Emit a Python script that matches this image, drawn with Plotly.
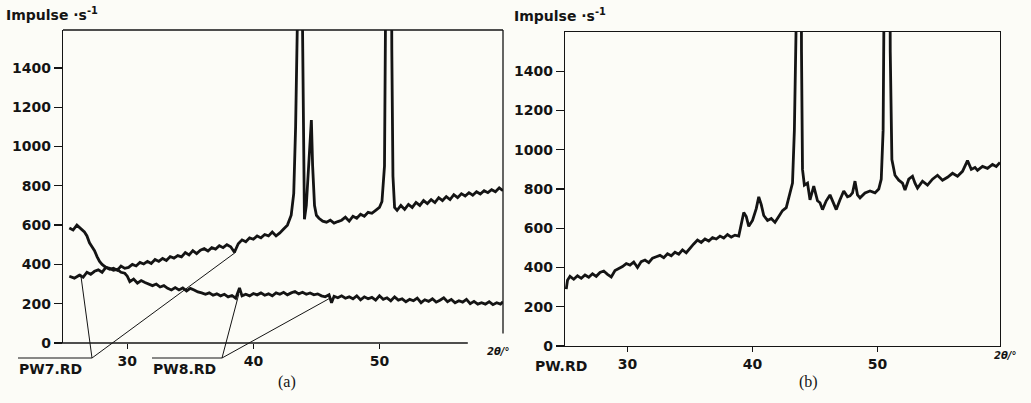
import plotly.graph_objects as go

W, H = 1031, 403

# ---------------- data ----------------
# (a) PW7.RD : 2theta [deg] / counts per second
pw7_2theta = [25.4, 25.8, 26.2, 26.5, 26.8, 27.1, 27.4, 27.7, 28.0, 28.3, 28.6, 28.9, 29.2, 29.5, 29.8,
              30.1, 30.4, 30.7, 31.0, 31.3, 31.6, 31.9, 32.2, 32.5, 32.8, 33.1, 33.4, 33.7, 34.0, 34.3,
              34.6, 34.9, 35.2, 35.5, 35.8, 36.1, 36.4, 36.7, 37.0, 37.3, 37.6, 37.9, 38.2, 38.5, 38.8,
              39.1, 39.4, 39.7, 40.0, 40.3, 40.6, 40.9, 41.2, 41.5, 41.8, 42.1, 42.4, 42.7, 43.0, 43.2,
              43.35, 43.45, 43.5, 43.85, 43.9, 43.98, 44.05, 44.2, 44.35, 44.5, 44.6, 44.7, 44.85, 45.0,
              45.2, 45.5, 45.8, 46.1, 46.4, 46.7, 47.0, 47.3, 47.6, 47.9, 48.2, 48.5, 48.8, 49.1, 49.4,
              49.7, 50.0, 50.2, 50.4, 50.52, 50.6, 50.9, 50.98, 51.07, 51.2, 51.4, 51.7, 52.0, 52.3,
              52.6, 52.9, 53.2, 53.5, 53.8, 54.1, 54.4, 54.7, 55.0, 55.3, 55.6, 55.9, 56.2, 56.5, 56.8,
              57.1, 57.4, 57.7, 58.0, 58.3, 58.6, 58.9, 59.2, 59.5, 59.8]
pw7_counts = [340, 330, 345, 335, 360, 350, 365, 372, 360, 385, 375, 380, 370, 392, 380,
              385, 400, 392, 410, 402, 415, 405, 425, 415, 430, 420, 440, 432, 445, 438,
              460, 448, 470, 455, 472, 480, 468, 485, 478, 495, 485, 500, 490, 462, 505,
              525, 515, 535, 528, 545, 535, 552, 545, 565, 545, 560, 580, 600, 650, 760,
              1100, 2000, 3000, 3000, 1600, 850, 630, 700, 850, 1050, 1135, 900, 700, 650,
              635, 620, 615, 625, 610, 618, 625, 640, 620, 645, 635, 655, 645, 665, 660,
              675, 690, 720, 900, 2000, 3000, 3000, 1500, 850, 690, 675, 700, 680, 705,
              690, 715, 700, 725, 710, 730, 715, 740, 725, 745, 730, 755, 740, 760, 748,
              765, 752, 770, 758, 775, 765, 780, 770, 790, 775]

# (a) PW8.RD
pw8_2theta = [25.4, 25.7, 26.0, 26.3, 26.6, 26.8, 27.0, 27.2, 27.4, 27.6, 27.8, 28.0, 28.3, 28.6, 28.9,
              29.2, 29.5, 29.8, 30.0, 30.2, 30.5, 30.8, 31.1, 31.4, 31.7, 32.0, 32.3, 32.6, 32.9, 33.2,
              33.5, 33.8, 34.1, 34.4, 34.7, 35.0, 35.3, 35.6, 35.9, 36.2, 36.5, 36.8, 37.1, 37.4, 37.7,
              38.0, 38.3, 38.6, 38.9, 39.1, 39.4, 39.7, 40.0, 40.3, 40.6, 40.9, 41.2, 41.5, 41.8, 42.1,
              42.4, 42.7, 43.0, 43.3, 43.6, 43.9, 44.2, 44.5, 44.8, 45.1, 45.4, 45.7, 46.0, 46.2, 46.4,
              46.7, 47.0, 47.3, 47.6, 47.9, 48.2, 48.5, 48.8, 49.1, 49.4, 49.7, 50.0, 50.3, 50.6, 50.9,
              51.2, 51.5, 51.8, 52.1, 52.4, 52.7, 53.0, 53.3, 53.6, 53.9, 54.2, 54.5, 54.8, 55.1, 55.4,
              55.7, 56.0, 56.3, 56.6, 56.9, 57.2, 57.5, 57.8, 58.1, 58.4, 58.7, 59.0, 59.3, 59.6, 59.8]
pw8_counts = [585, 575, 600, 580, 565, 545, 510, 490, 470, 440, 415, 400, 385, 380, 370,
              375, 360, 355, 340, 312, 325, 305, 318, 308, 300, 292, 300, 285, 292, 278,
              270, 282, 270, 280, 265, 278, 270, 260, 255, 248, 255, 243, 250, 240, 248,
              235, 242, 228, 280, 240, 248, 240, 252, 245, 255, 243, 250, 240, 255, 248,
              258, 245, 255, 262, 250, 258, 248, 255, 245, 250, 240, 235, 245, 205, 238,
              230, 240, 228, 235, 225, 240, 220, 235, 225, 232, 218, 240, 222, 230, 215,
              235, 218, 225, 210, 222, 215, 228, 205, 220, 212, 225, 208, 218, 230, 210,
              222, 205, 215, 208, 222, 200, 212, 198, 205, 198, 210, 195, 205, 198, 210]

# (b) PW.RD
pw_2theta = [25.1, 25.2, 25.4, 25.7, 26.0, 26.3, 26.6, 26.9, 27.2, 27.5, 27.8, 28.1, 28.4, 28.7, 29.0,
             29.3, 29.6, 29.9, 30.2, 30.5, 30.8, 31.1, 31.4, 31.7, 32.0, 32.3, 32.6, 32.9, 33.2, 33.5,
             33.8, 34.1, 34.4, 34.7, 35.0, 35.3, 35.6, 35.9, 36.2, 36.5, 36.8, 37.1, 37.4, 37.7, 38.0,
             38.3, 38.6, 38.9, 39.1, 39.3, 39.5, 39.7, 40.0, 40.3, 40.5, 40.7, 40.9, 41.2, 41.5, 41.8,
             42.1, 42.4, 42.7, 43.0, 43.2, 43.35, 43.45, 43.5, 43.85, 43.92, 44.0, 44.15, 44.4, 44.6, 44.9,
             45.2, 45.4, 45.6, 45.9, 46.2, 46.5, 46.7, 47.0, 47.3, 47.6, 47.8, 48.0, 48.2, 48.4, 48.6,
             49.0, 49.4, 49.8, 50.1, 50.3, 50.45, 50.55, 50.6, 50.95, 51.02, 51.15, 51.4, 51.7, 52.0, 52.2,
             52.5, 52.8, 53.0, 53.2, 53.6, 54.0, 54.4, 54.8, 55.2, 55.6, 56.0, 56.4, 56.8, 57.2, 57.5,
             57.8, 58.0, 58.4, 58.8, 59.2, 59.5, 59.8]
pw_counts = [290, 335, 355, 340, 358, 345, 362, 350, 368, 355, 375, 382, 365, 352, 385,
             395, 405, 420, 412, 428, 400, 430, 438, 425, 448, 455, 462, 450, 470, 460,
             478, 468, 490, 475, 500, 520, 540, 528, 545, 535, 552, 545, 560, 550, 568,
             555, 565, 560, 620, 680, 660, 610, 640, 700, 760, 720, 665, 640, 650, 630,
             660, 690, 705, 790, 830, 1100, 2000, 3000, 3000, 1500, 900, 820, 830, 745, 815,
             740, 730, 695, 740, 770, 720, 695, 745, 790, 760, 765, 780, 840, 770, 755,
             780, 790, 780, 800, 850, 1100, 2000, 3000, 3000, 1500, 950, 870, 845, 830, 795,
             850, 865, 830, 805, 840, 820, 850, 870, 845, 860, 880, 865, 890, 945, 900,
             910, 895, 915, 905, 925, 915, 935]

y_ticks = [0, 200, 400, 600, 800, 1000, 1200, 1400]
x_ticks = [30, 40, 50]

# leader lines of panel (a): point on a curve  ->  end of the label underline
pw7_leaders = [(26.3, 352), (38.6, 462)]
pw8_leaders = [(38.85, 250), (46.1, 229)]

# ---------------- figure ----------------
INK = "#141414"
BG = "#fcfcf7"
TICKFONT = dict(family="DejaVu Sans", size=14, color=INK, weight="bold")

XA_DOM = (63 / W, 503 / W)
XA_RNG = (24.9, 59.8)
YA_DOM = (1 - 343 / H, 1 - 30 / H)
YA_RNG = (0, 1593)


def px(x):
    return x / W


def py(y):
    return 1 - y / H


def to_paper(xv, yv):
    fx = (xv - XA_RNG[0]) / (XA_RNG[1] - XA_RNG[0])
    fy = (yv - YA_RNG[0]) / (YA_RNG[1] - YA_RNG[0])
    return (XA_DOM[0] + fx * (XA_DOM[1] - XA_DOM[0]), YA_DOM[0] + fy * (YA_DOM[1] - YA_DOM[0]))


fig = go.Figure()
for xs, ys, xa, ya in [(pw7_2theta, pw7_counts, "x", "y"),
                       (pw8_2theta, pw8_counts, "x", "y"),
                       (pw_2theta, pw_counts, "x2", "y2")]:
    fig.add_trace(go.Scatter(x=xs, y=ys, mode="lines", xaxis=xa, yaxis=ya,
                             line=dict(color=INK, width=2.8), hoverinfo="skip"))

axis_common = dict(showgrid=False, zeroline=False, ticks="outside", tickcolor=INK,
                   linecolor=INK, linewidth=1.3, tickwidth=1.3, tickfont=TICKFONT, fixedrange=True)

fig.update_layout(
    width=W, height=H, margin=dict(l=0, r=0, t=0, b=0, autoexpand=False),
    paper_bgcolor=BG, plot_bgcolor=BG, showlegend=False,
    xaxis=dict(domain=list(XA_DOM), range=list(XA_RNG), tickvals=x_ticks, showline=False,
               ticklen=5, anchor="y", **axis_common),
    yaxis=dict(domain=list(YA_DOM), range=list(YA_RNG), tickvals=y_ticks, showline=True,
               ticklen=8, anchor="x", **axis_common),
    xaxis2=dict(domain=[px(565), px(1000)], range=[25.0, 59.8], tickvals=x_ticks, showline=True,
                mirror=True, ticklen=5, anchor="y2", **axis_common),
    yaxis2=dict(domain=[py(346), py(32)], range=[0, 1600], tickvals=y_ticks, showline=True,
                mirror=True, ticklen=8, anchor="x2", **axis_common),
)

# frame pieces of panel (a)
line = dict(color=INK, width=1.3)
fig.add_shape(type="line", xref="x domain", yref="y domain", x0=0, x1=1, y0=1, y1=1, line=line)
fig.add_shape(type="line", xref="x domain", yref="y domain", x0=1, x1=1, y0=0.03, y1=1, line=line)
fig.add_shape(type="line", xref="x domain", yref="y domain", x0=-0.012, x1=0.92, y0=0, y1=0, line=line)

# label underlines
thin = dict(color=INK, width=1)
fig.add_shape(type="line", xref="paper", yref="paper", x0=px(18), x1=px(92), y0=py(358), y1=py(358), line=thin)
fig.add_shape(type="line", xref="paper", yref="paper", x0=px(152), x1=px(222), y0=py(358), y1=py(358), line=thin)

# leader lines
for pts, (ex, ey) in [(pw7_leaders, (92, 358)), (pw8_leaders, (222, 358))]:
    for (xv, yv) in pts:
        qx, qy = to_paper(xv, yv)
        fig.add_shape(type="line", xref="paper", yref="paper", x0=px(ex), y0=py(ey), x1=qx, y1=qy, line=thin)

TXT = dict(family="DejaVu Sans", size=14, color=INK, weight="bold")
texts = [
    ("Impulse ·s<sup>-1</sup>", 4, 14, "left", TXT),
    ("Impulse ·s<sup>-1</sup>", 512, 15, "left", TXT),
    ("PW7.RD", 17, 369, "left", TXT),
    ("PW8.RD", 151, 369, "left", TXT),
    ("PW.RD", 533, 366, "left", TXT),
    ("2θ/°", 498, 351, "center", dict(family="DejaVu Sans", size=10, color=INK, weight="bold", style="italic")),
    ("2θ/°", 1005, 355, "center", dict(family="DejaVu Sans", size=10, color=INK, weight="bold", style="italic")),
    ("(a)", 287, 382, "center", dict(family="Liberation Serif", size=16, color=INK)),
    ("(b)", 808, 382, "center", dict(family="Liberation Serif", size=16, color=INK)),
]
for t, x, y, anc, f in texts:
    fig.add_annotation(text=t, x=px(x), y=py(y), xref="paper", yref="paper", showarrow=False,
                       xanchor=anc, yanchor="middle", font=f)

fig.write_html("out.html", config={"displayModeBar": False, "staticPlot": True},
               post_script="document.body.style.margin='0';document.body.style.overflow='hidden';")
